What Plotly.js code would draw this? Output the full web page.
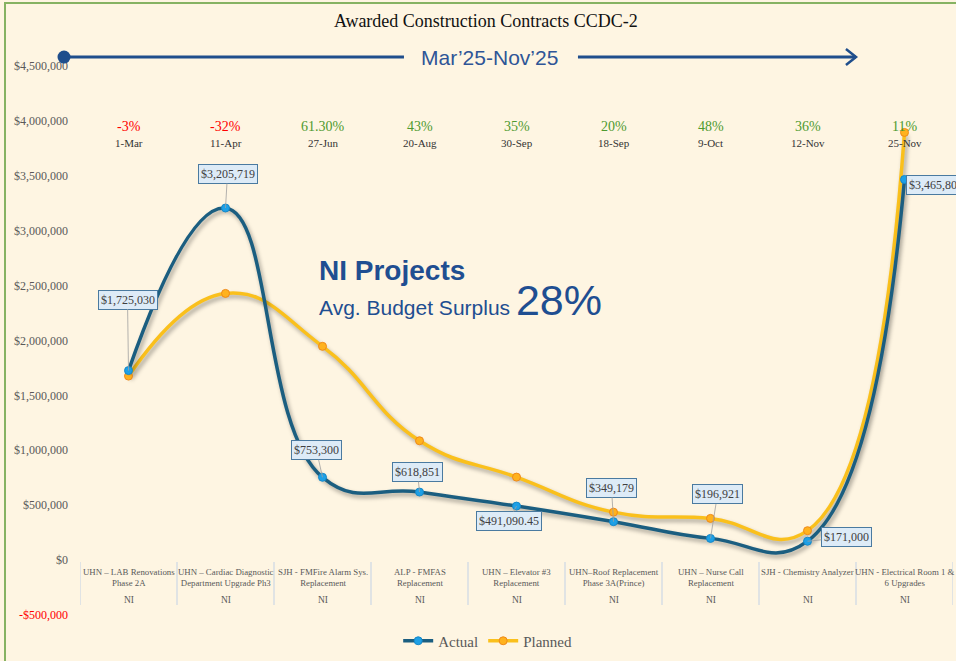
<!DOCTYPE html>
<html>
<head>
<meta charset="utf-8">
<script src="https://cdn.plot.ly/plotly-3.0.1.min.js"></script>
<style>
  html, body { margin: 0; padding: 0; background: #FEF5E2; overflow: hidden; }
  #chart { width: 956px; height: 661px; position: absolute; left: 0; top: 0; }
  #frame { position: absolute; left: 4px; top: 2px; width: 1200px; height: 1200px;
           border-left: 2px solid #86B262; border-top: 2px solid #86B262; pointer-events: none; }
</style>
</head>
<body>
<div id="chart"></div>
<div id="frame"></div>
<script>
// ---- data ----
const categories = [
  "UHN – LAB Renovations<br>Phase 2A",
  "UHN – Cardiac Diagnostic<br>Department Upgrade Ph3",
  "SJH - FMFire Alarm Sys.<br>Replacement",
  "ALP - FMFAS<br>Replacement",
  "UHN – Elevator #3<br>Replacement",
  "UHN–Roof Replacement<br>Phase 3A(Prince)",
  "UHN – Nurse Call<br>Replacement",
  "SJH - Chemistry Analyzer",
  "UHN - Electrical Room 1 &<br>6 Upgrades"
];
const groupLabels = ["NI","NI","NI","NI","NI","NI","NI","NI","NI"];
const actual  = [1725030, 3205719, 753300, 618851, 491090.45, 349179, 196921, 171000, 3465800];
const planned = [1675000, 2428000, 1946000, 1086000, 755000, 436000, 379000, 267000, 3894000];
const actualLabels = ["$1,725,030","$3,205,719","$753,300","$618,851","$491,090.45","$349,179","$196,921","$171,000","$3,465,800"];
const surplusLabels = ["-3%","-32%","61.30%","43%","35%","20%","48%","36%","11%"];
const awardDates = ["1-Mar","11-Apr","27-Jun","20-Aug","30-Sep","18-Sep","9-Oct","12-Nov","25-Nov"];
const yTickVals = [-500000,0,500000,1000000,1500000,2000000,2500000,3000000,3500000,4000000,4500000];
const yTickText = ['<span style="color:#FF0000">-$500,000</span>',"$0","$500,000","$1,000,000","$1,500,000","$2,000,000","$2,500,000","$3,000,000","$3,500,000","$4,000,000","$4,500,000"];

// ---- styling / label placement (pixels) ----
const labelOffsets = [[-1,-71],[2,-34],[-6,-27],[-2,-20],[-8,15],[-2,-34],[7,-44],[39,-4],null];
const SERIF = "Liberation Serif, Times New Roman, serif";
const SANS = "Liberation Sans, Arial, sans-serif";

const traces = [
  { x: categories, y: planned, name: "Planned", type: "scatter", mode: "lines+markers",
    line: { color: "#FAC01C", width: 3.5, shape: "spline", smoothing: 1.3 },
    marker: { color: "#FFB21E", size: 8, line: { color: "#F08A1A", width: 1 } } },
  { x: categories, y: actual, name: "Actual", type: "scatter", mode: "lines+markers",
    line: { color: "#1B5E80", width: 3.5, shape: "spline", smoothing: 1.3 },
    marker: { color: "#1EA0E6", size: 8, line: { color: "#1688C8", width: 1 } } }
];

const annotations = [];
// data labels
actual.forEach((v, i) => {
  const base = { x: categories[i], y: v, xref: "x", yref: "y", text: actualLabels[i],
    font: { family: SERIF, size: 12, color: "#404040" },
    bgcolor: "#DDEBF7", bordercolor: "#4A7AA0", borderwidth: 1, borderpad: 2 };
  if (labelOffsets[i]) {
    annotations.push(Object.assign(base, { showarrow: true, arrowhead: 0, arrowwidth: 0.8,
      arrowcolor: "#A0A0A0", ax: labelOffsets[i][0], ay: labelOffsets[i][1], standoff: 0 }));
  } else {
    annotations.push(Object.assign(base, { showarrow: false, xanchor: "left", yanchor: "middle", xshift: 1, yshift: -6 }));
  }
});
// surplus % and dates, category labels
surplusLabels.forEach((t, i) => {
  annotations.push({ x: categories[i], y: 0.8405, xref: "x", yref: "paper", xanchor: "center", yanchor: "middle",
    showarrow: false, text: t,
    font: { family: SERIF, size: 14, color: t.startsWith("-") ? "#FF0000" : "#4E9A2F" } });
  annotations.push({ x: categories[i], y: 0.8118, xref: "x", yref: "paper", xanchor: "center", yanchor: "middle",
    showarrow: false, text: awardDates[i], font: { family: SERIF, size: 11, color: "#333333" } });
  annotations.push({ x: categories[i], y: 0, xref: "x", yref: "y", xanchor: "center", yanchor: "top", yshift: -5,
    showarrow: false, text: categories[i], font: { family: SERIF, size: 8.8, color: "#595959" } });
  annotations.push({ x: categories[i], y: 0, xref: "x", yref: "y", xanchor: "center", yanchor: "middle", yshift: -40,
    showarrow: false, text: groupLabels[i], font: { family: SERIF, size: 9.5, color: "#595959" } });
});
// period banner text
annotations.push({ x: 0.4696, y: 0.9551, xref: "paper", yref: "paper", xanchor: "center", yanchor: "middle",
  showarrow: false, text: "Mar’25-Nov’25", font: { family: SANS, size: 21, color: "#2F5597" } });
// NI Projects text block
annotations.push({ x: 0.2715, y: 0.6005, xref: "paper", yref: "paper", xanchor: "left", yanchor: "middle", showarrow: false,
  text: "<b>NI Projects</b>", font: { family: SANS, size: 28, color: "#1F4E91" } });
annotations.push({ x: 0.2715, y: 0.5523, xref: "paper", yref: "paper", xanchor: "left", yanchor: "middle", showarrow: false,
  text: 'Avg. Budget Surplus <span style="font-size:43px">28%</span>', font: { family: SANS, size: 21, color: "#1F4E91" } });

const shapes = [];
// category dividers
for (let i = 0; i <= categories.length; i++) {
  shapes.push({ type: "line", xref: "x", yref: "paper", x0: i - 0.5, x1: i - 0.5, y0: 0.0449, y1: 0.1163,
    line: { color: "#D6DCE4", width: 1.5 } });
}
// period arrow
const arrowColor = "#1F4E8C";
shapes.push({ type: "line", xref: "paper", yref: "paper", x0: -0.0183, x1: 0.3711, y0: 0.9551, y1: 0.9551, line: { color: arrowColor, width: 3 } });
shapes.push({ type: "line", xref: "paper", yref: "paper", x0: 0.5704, x1: 0.8889, y0: 0.9551, y1: 0.9551, line: { color: arrowColor, width: 3 } });
shapes.push({ type: "path", xref: "paper", yref: "paper", path: "M0.8774,0.9684 L0.8889,0.9551 L0.8774,0.9419", line: { color: arrowColor, width: 2.5 } });
shapes.push({ type: "circle", xref: "paper", yref: "paper", xsizemode: "pixel", ysizemode: "pixel",
  xanchor: -0.0183, yanchor: 0.9551, x0: -6.5, x1: 6.5, y0: -6.5, y1: 6.5, fillcolor: arrowColor, line: { color: arrowColor, width: 0 } });

const layout = {
  width: 956, height: 661,
  margin: { l: 80, r: 3, t: 30, b: 29 },
  paper_bgcolor: "#FEF5E2", plot_bgcolor: "rgba(0,0,0,0)",
  title: { text: "Awarded Construction Contracts CCDC-2", font: { family: SERIF, size: 18, color: "#111111" },
    x: 0.465, xref: "paper", xanchor: "center", y: 0.968, yanchor: "middle" },
  xaxis: { type: "category", showticklabels: false, showgrid: false, zeroline: false, showline: false, ticks: "",
    range: [-0.5, 8.5], fixedrange: true },
  yaxis: { range: [-655738, 4826958], tickvals: yTickVals, ticktext: yTickText, showgrid: false, zeroline: false,
    showline: false, ticks: "", ticklabelstandoff: 11, tickfont: { family: SERIF, size: 12, color: "#595959" } },
  showlegend: true,
  legend: { orientation: "h", x: 0.467, xanchor: "center", y: -0.015, yanchor: "middle", traceorder: "reversed",
    font: { family: SERIF, size: 15, color: "#595959" }, bgcolor: "rgba(0,0,0,0)" },
  annotations: annotations,
  shapes: shapes
};

Plotly.newPlot("chart", traces, layout, { staticPlot: true, displayModeBar: false }).then(() => {
  document.querySelectorAll("#chart .scatterlayer .trace path.js-line").forEach(p => {
    p.style.filter = "drop-shadow(2px 3px 2px rgba(0,0,0,0.35))";
  });
});
</script>
</body>
</html>
